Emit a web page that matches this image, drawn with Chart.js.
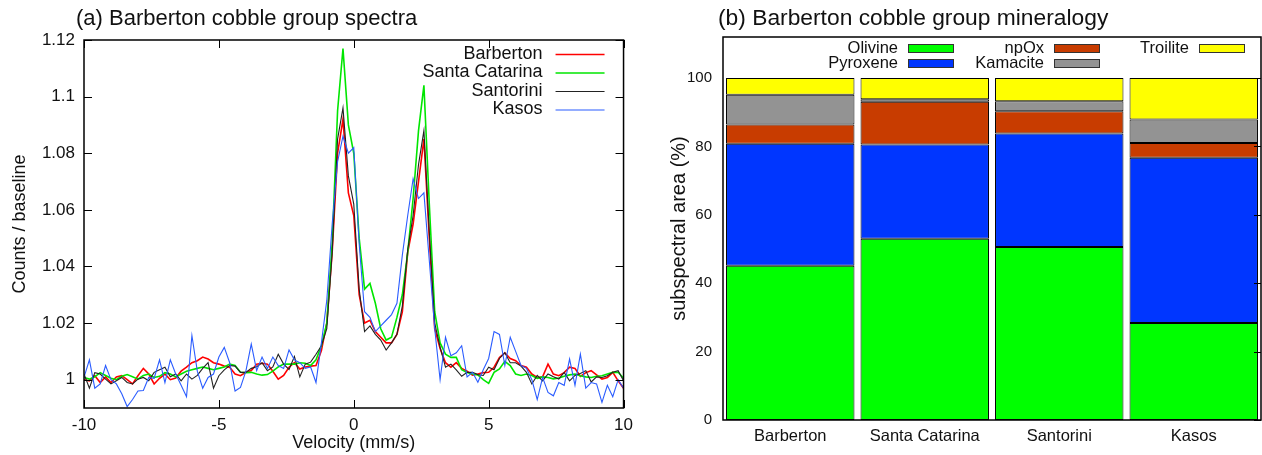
<!DOCTYPE html>
<html>
<head>
<meta charset="utf-8">
<script src="https://cdn.jsdelivr.net/npm/chart.js@4.4.1/dist/chart.umd.min.js"></script>
<style>
  html, body { margin: 0; padding: 0; background: #fff; }
  #wrap { position: relative; width: 1262px; height: 455px; overflow: hidden; }
  #boxA { position: absolute; left: 0; top: 0; width: 640px; height: 455px; }
  #boxB { position: absolute; left: 640px; top: 0; width: 622px; height: 455px; }
</style>
</head>
<body>
<div id="wrap">
  <div id="boxA"><canvas id="spectra" width="640" height="455"></canvas></div>
  <div id="boxB"><canvas id="minerals" width="622" height="455"></canvas></div>
</div>
<script>
// ---- (a) spectra : velocity grid (mm/s) and counts/baseline per sample ----
var velocity = [-10, -9.8, -9.6, -9.4, -9.2, -9, -8.8, -8.6, -8.4, -8.2,
  -8, -7.8, -7.6, -7.4, -7.2, -7, -6.8, -6.6, -6.4, -6.2,
  -6, -5.8, -5.6, -5.4, -5.2, -5, -4.8, -4.6, -4.4, -4.2,
  -4, -3.8, -3.6, -3.4, -3.2, -3, -2.8, -2.6, -2.4, -2.2,
  -2, -1.8, -1.6, -1.4, -1.2, -1, -0.8, -0.6, -0.4, -0.2,
  0, 0.2, 0.4, 0.6, 0.8, 1, 1.2, 1.4, 1.6, 1.8,
  2, 2.2, 2.4, 2.6, 2.8, 3, 3.2, 3.4, 3.6, 3.8,
  4, 4.2, 4.4, 4.6, 4.8, 5, 5.2, 5.4, 5.6, 5.8,
  6, 6.2, 6.4, 6.6, 6.8, 7, 7.2, 7.4, 7.6, 7.8,
  8, 8.2, 8.4, 8.6, 8.8, 9, 9.2, 9.4, 9.6, 9.8, 10];

var barberton = [1.000, 0.9996, 1.0014, 0.999, 1.001, 0.999, 1.001, 1.0014, 1.000, 0.9985,
  1.0014, 1.004, 1.002, 0.9985, 1.0005, 1.002, 1.000, 1.0006, 1.003, 1.0044,
  1.006, 1.0067, 1.008, 1.0073, 1.006, 1.0055,
  1.0048, 1.0044, 1.002, 1.0014, 1.0026, 1.0032, 1.0055, 1.0058, 1.0055, 1.003,
  1.0002, 1.0015, 1.0044, 1.006, 1.0038, 1.0045, 1.0048, 1.005, 1.0103,
  1.020, 1.045, 1.080, 1.092, 1.066, 1.058, 1.030, 1.020, 1.021, 1.017,
  1.015, 1.013, 1.013, 1.016, 1.024, 1.045, 1.055, 1.070, 1.085, 1.050, 1.018,
  1.011, 1.006, 1.0044, 1.006, 1.004, 1.003, 1.0016, 1.002, 1.0025, 1.0026,
  1.0044, 1.0078, 1.0095, 1.0075, 1.0067, 1.005, 1.0044, 1.002, 1.0008,
  1.001, 1.0055, 1.002, 1.0014, 1.0025, 1.0044, 1.004, 1.0012, 1.0025, 1.0032,
  1.0017, 1.0002, 1.0008, 1.0026, 0.9996, 0.997];

var santaCatarina = [1.0008, 1.0002, 1.001, 1.0025, 1.0015, 1.0005, 1.000, 1.0012, 1.0018, 1.001,
  1.0002, 1.0015, 1.002, 1.0008, 1.0012, 1.0025, 1.002, 1.001, 1.002, 1.003,
  1.0035, 1.004, 1.0045, 1.004, 1.0035, 1.004,
  1.0045, 1.0055, 1.005, 1.0026, 1.0025, 1.0026, 1.002, 1.0016, 1.0018, 1.003,
  1.0045, 1.0055, 1.0055, 1.0055, 1.006, 1.0058, 1.005, 1.007, 1.012,
  1.020, 1.048, 1.095, 1.117, 1.090, 1.080, 1.050, 1.032, 1.034, 1.027,
  1.018, 1.014, 1.015, 1.022, 1.030, 1.045, 1.064, 1.088, 1.104, 1.062, 1.024,
  1.013, 1.009, 1.0079, 1.0079, 1.0035, 1.0025, 1.002, 1.0017, 1.000, 0.9987,
  1.0026, 1.0038, 1.0065, 1.005, 1.002, 1.0015, 1.002, 1.0015, 1.0005,
  1.001, 1.0008, 1.0003, 1.0006, 1.0012, 1.0017, 1.002, 1.0014, 1.001, 1.0008,
  1.0012, 1.0014, 1.002, 1.0026, 1.0026, 1.0005];

var santorini = [1.002, 0.997, 1.0025, 1.002, 1.0002, 0.9985, 0.9996, 1.0008, 0.999, 0.9985,
  1.0002, 1.0008, 0.9996, 1.0026, 1.0035, 1.0044, 1.001, 1.002, 0.9996, 1.002,
  1.0002, 1.0015, 1.004, 1.006, 0.997, 1.0014,
  1.0035, 1.005, 1.0048, 1.0026, 1.0026, 1.004, 1.0046, 1.006, 1.0032, 1.0045,
  1.009, 1.0055, 1.0036, 1.0082, 1.001, 1.0055, 1.0062, 1.009, 1.012,
  1.018, 1.045, 1.085, 1.096, 1.072, 1.062, 1.032, 1.017, 1.019, 1.016,
  1.014, 1.0105, 1.013, 1.016, 1.026, 1.046, 1.058, 1.076, 1.088, 1.052, 1.020,
  1.0115, 1.0044, 1.0055, 1.0035, 1.0012, 1.0026, 1.0026, 1.0018, 1.0015, 1.0044,
  1.0035, 1.0075, 1.0095, 1.006, 1.006, 1.0048, 1.0026, 0.9985, 1.0015,
  0.9996, 1.002, 1.001, 1.0002, 1.0026, 0.9996, 1.0015, 1.0022, 1.0032, 0.9992,
  1.001, 1.0008, 1.0014, 1.0026, 1.0032, 0.9996];

var kasos = [1.0008, 1.007, 0.997, 0.9985, 1.005, 1.000, 0.9985, 0.995, 0.9905, 0.993,
  0.996, 0.9962, 1.0008, 1.0005, 1.007, 0.999, 1.007, 1.002, 0.998, 0.994,
  1.0156, 1.003, 0.997, 1.0008, 1.002, 1.008,
  1.0114, 1.006, 0.996, 0.9973, 1.003, 1.0126, 1.0032, 1.008, 1.004, 1.008,
  1.005, 1.004, 1.0105, 1.007, 1.006, 1.004, 1.0045, 0.999, 1.013,
  1.028, 1.055, 1.077, 1.086, 1.080, 1.082, 1.048, 1.024, 1.022, 1.017,
  1.019, 1.021, 1.023, 1.027, 1.044, 1.058, 1.071, 1.064, 1.066, 1.042, 1.018,
  1.000, 1.015, 1.0085, 1.0095, 1.012, 1.001, 1.0026, 0.9991, 1.0035, 1.0075,
  1.017, 1.016, 1.005, 1.015, 1.010, 1.005, 1.004, 1.000, 0.993,
  1.0008, 0.9955, 0.9943, 0.999, 0.998, 1.0073, 0.998, 1.009, 0.997, 0.999,
  0.9985, 0.992, 0.998, 0.994, 1.000, 0.997];

var velocityTicks = [-10, -5, 0, 5, 10];
var countTicks = [1, 1.02, 1.04, 1.06, 1.08, 1.1, 1.12];

// ---- (b) mineralogy : subspectral area (%) ----
var samples = ['Barberton', 'Santa Catarina', 'Santorini', 'Kasos'];
var olivine   = [45.1, 53.0, 50.6, 28.4];
var pyroxene  = [35.7, 27.6, 33.2, 48.3];
var npOx      = [5.6, 12.5, 6.5, 4.3];
var kamacite  = [8.7, 0.7, 2.9, 6.9];
var troilite  = [4.9, 6.2, 6.8, 12.1];
var areaTicks = [0, 20, 40, 60, 80, 100];

var FONT = "'Liberation Sans', Arial, Helvetica, sans-serif";
var INK = '#111';

// panel title "(a) ..." above the frame
var panelTitle = {
  id: 'panelTitle',
  afterDraw(chart, args, opts) {
    var ctx = chart.ctx;
    ctx.save();
    ctx.font = opts.size + 'px ' + FONT;
    ctx.fillStyle = INK;
    ctx.textAlign = 'left';
    ctx.textBaseline = 'middle';
    ctx.fillText(opts.text, chart.chartArea.left + opts.dx, opts.y);
    ctx.restore();
  }
};

// gnuplot-like border with inward ticks
var frameTicks = {
  id: 'frameTicks',
  afterDatasetsDraw(chart, args, opts) {
    var ctx = chart.ctx, a = chart.chartArea, sx = chart.scales.x, sy = chart.scales.y;
    var len = opts.len;
    ctx.save();
    ctx.strokeStyle = '#000';
    ctx.lineWidth = 1;
    ctx.beginPath();
    if (opts.xTicks) {
      sx.ticks.forEach(function (t) {
        var px = Math.round(sx.getPixelForValue(t.value)) + 0.5;
        ctx.moveTo(px, a.bottom); ctx.lineTo(px, a.bottom - len);
        ctx.moveTo(px, a.top); ctx.lineTo(px, a.top + len);
      });
    }
    sy.ticks.forEach(function (t) {
      var py = Math.round(sy.getPixelForValue(t.value)) + 0.5;
      if (opts.leftTicks) { ctx.moveTo(a.left, py); ctx.lineTo(a.left + len, py); }
      ctx.moveTo(a.right, py); ctx.lineTo(a.right - len, py);
    });
    ctx.stroke();
    ctx.lineWidth = opts.border;
    ctx.strokeRect(a.left, a.top, a.right - a.left, a.bottom - a.top);
    ctx.restore();
  }
};

// key for the line panel: label right-aligned, then a line sample
var lineKey = {
  id: 'lineKey',
  afterDraw(chart, args, opts) {
    var ctx = chart.ctx, a = chart.chartArea;
    ctx.save();
    ctx.font = opts.size + 'px ' + FONT;
    ctx.textAlign = 'right';
    ctx.textBaseline = 'middle';
    chart.data.datasets.forEach(function (ds, i) {
      var y = a.top + opts.top + i * opts.row;
      ctx.fillStyle = INK;
      ctx.fillText(ds.label, a.right - opts.textEnd, y);
      ctx.strokeStyle = ds.borderColor;
      ctx.lineWidth = ds.borderWidth;
      ctx.beginPath();
      ctx.moveTo(a.right - opts.from, y + 0.5);
      ctx.lineTo(a.right - opts.to, y + 0.5);
      ctx.stroke();
    });
    ctx.restore();
  }
};

// key for the bar panel: 2 rows, filled boxes
var boxKey = {
  id: 'boxKey',
  afterDraw(chart, args, opts) {
    var ctx = chart.ctx, a = chart.chartArea;
    ctx.save();
    ctx.font = opts.size + 'px ' + FONT;
    ctx.textAlign = 'right';
    ctx.textBaseline = 'middle';
    chart.data.datasets.forEach(function (ds, i) {
      var col = Math.floor(i / opts.rows), row = i % opts.rows;
      var bx = Math.round(a.left + opts.left + col * opts.colStep);
      var y = Math.round(a.top + opts.top + row * opts.row);
      ctx.fillStyle = INK;
      ctx.fillText(ds.label, bx - opts.gap, y);
      ctx.fillStyle = ds.backgroundColor;
      ctx.fillRect(bx, y - 4, opts.w, 8);
      ctx.strokeStyle = '#333';
      ctx.lineWidth = 1;
      ctx.strokeRect(bx + 0.5, y - 3.5, opts.w, 8);
    });
    ctx.restore();
  }
};

function fmt(v) { return String(v); }

new Chart(document.getElementById('spectra').getContext('2d'), {
  type: 'line',
  data: {
    labels: velocity,
    datasets: [
      { label: 'Barberton', data: barberton, borderColor: '#ff0000', borderWidth: 1.6, order: 3 },
      { label: 'Santa Catarina', data: santaCatarina, borderColor: '#00e600', borderWidth: 1.6, order: 2 },
      { label: 'Santorini', data: santorini, borderColor: '#222222', borderWidth: 1.1, order: 1 },
      { label: 'Kasos', data: kasos, borderColor: '#2a5cff', borderWidth: 1.1, order: 0 }
    ]
  },
  options: {
    responsive: false,
    animation: false,
    elements: { point: { radius: 0 }, line: { tension: 0, fill: false } },
    layout: { padding: { left: 0, right: 15, top: 40, bottom: 0 } },
    plugins: {
      legend: { display: false },
      tooltip: { enabled: false },
      panelTitle: { text: '(a) Barberton cobble group spectra', size: 22, dx: -8, y: 19 },
      frameTicks: { len: 8, border: 1.5, xTicks: true, leftTicks: true },
      lineKey: { size: 18, top: 14, row: 18.5, textEnd: 81, from: 68, to: 19 }
    },
    scales: {
      x: {
        type: 'linear', min: -10, max: 10,
        afterBuildTicks: function (s) { s.ticks = velocityTicks.map(function (v) { return { value: v }; }); },
        afterFit: function (s) { s.height = 47; },
        grid: { display: false, drawTicks: false },
        border: { display: false },
        ticks: { padding: 7, maxRotation: 0, color: INK, font: { family: FONT, size: 17 }, callback: fmt },
        title: { display: true, text: 'Velocity (mm/s)', color: INK, font: { family: FONT, size: 18 }, padding: { top: 0, bottom: 1 } }
      },
      y: {
        min: 0.99, max: 1.12,
        afterBuildTicks: function (s) { s.ticks = countTicks.map(function (v) { return { value: v }; }); },
        afterFit: function (s) { s.width = 84; },
        grid: { display: false, drawTicks: false },
        border: { display: false },
        ticks: { padding: 9, color: INK, font: { family: FONT, size: 17 }, callback: fmt },
        title: { display: true, text: 'Counts / baseline', color: INK, font: { family: FONT, size: 18 }, padding: { top: 9, bottom: 0 } }
      }
    }
  },
  plugins: [panelTitle, frameTicks, lineKey]
});

new Chart(document.getElementById('minerals').getContext('2d'), {
  type: 'bar',
  data: {
    labels: samples,
    datasets: [
      { label: 'Olivine', data: olivine, backgroundColor: '#00ff00' },
      { label: 'Pyroxene', data: pyroxene, backgroundColor: '#0036ff' },
      { label: 'npOx', data: npOx, backgroundColor: '#c83c00' },
      { label: 'Kamacite', data: kamacite, backgroundColor: '#939393' },
      { label: 'Troilite', data: troilite, backgroundColor: '#ffff00' }
    ]
  },
  options: {
    responsive: false,
    animation: false,
    datasets: { bar: { barPercentage: 0.955, categoryPercentage: 1, borderWidth: 1, borderColor: '#000', borderSkipped: false } },
    layout: { padding: { left: 0, right: 1, top: 37, bottom: 0 } },
    plugins: {
      legend: { display: false },
      tooltip: { enabled: false },
      panelTitle: { text: '(b) Barberton cobble group mineralogy', size: 22.8, dx: -5, y: 19 },
      frameTicks: { len: 7, border: 1.5, xTicks: false, leftTicks: false },
      boxKey: { size: 16.5, rows: 2, left: 185, colStep: 145.5, top: 11, row: 15, gap: 10, w: 45 }
    },
    scales: {
      x: {
        stacked: true,
        afterFit: function (s) { s.height = 35; },
        grid: { display: false, drawTicks: false },
        border: { display: false },
        ticks: { padding: 7, maxRotation: 0, color: INK, font: { family: FONT, size: 16.5 } }
      },
      y: {
        stacked: true, min: 0, max: 112,
        afterBuildTicks: function (s) { s.ticks = areaTicks.map(function (v) { return { value: v }; }); },
        afterFit: function (s) { s.width = 83; },
        grid: { display: false, drawTicks: false },
        border: { display: false },
        ticks: { padding: 11, color: INK, font: { family: FONT, size: 15 }, callback: fmt },
        title: { display: true, text: 'subspectral area (%)', color: INK, font: { family: FONT, size: 20 }, padding: { top: 27, bottom: 0 } }
      }
    }
  },
  plugins: [panelTitle, frameTicks, boxKey]
});
</script>
</body>
</html>
